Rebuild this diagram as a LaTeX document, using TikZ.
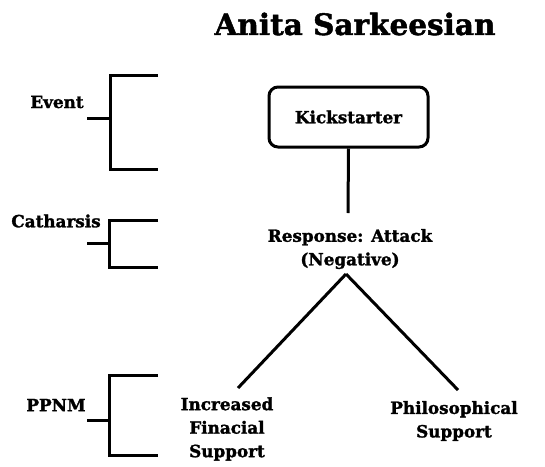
\documentclass[tikz,border=0pt]{standalone}
\usepackage{fontspec}
\setmainfont{DejaVu Serif}
\newfontfamily\heavy{DejaVu Serif}[UprightFont=*-Bold, FakeBold=1.6]
\usetikzlibrary{positioning}
\tikzset{
    tag/.style={
        font=\heavy\fontsize{16.8}{23.5}\selectfont,
        inner sep=0pt,
        align=center
    },
    headline/.style={
        font=\heavy\fontsize{29.5}{34}\selectfont,
        inner sep=0pt
    },
    stage/.style={
        tag,
        draw, line width=3pt,
        rounded corners=9pt,
        minimum width=159pt,
        minimum height=60pt
    },
    link/.style={
        line width=3pt
    },
    bracket/.style={
        line width=3pt
    },
}

\begin{document}
\begin{tikzpicture}
            [x=1pt, y=-1pt]
            \useasboundingbox (0,0) rectangle (545,466);
            % Title
            \node[headline] (title) at (355,24) {Anita Sarkeesian};

            % Draw left brackets
            \node[tag] (event) at (57,102) {Event};
            \node[tag] (catharsis) at (56,221) {Catharsis};
            \node[tag] (ppnm) at (56,405) {PPNM};

            \draw[bracket] (158,75) -- (110,75) -- (110,169) -- (158,169);
            \draw[bracket] (87,118) -- (110,118);
            \draw[bracket] (158,220) -- (109,220) -- (109,267) -- (158,267);
            \draw[bracket] (87,243) -- (109,243);
            \draw[bracket] (158,375) -- (109,375) -- (109,455) -- (158,455);
            \draw[bracket] (87,420) -- (109,420);

            % Draw tree
            \node[stage] (kick) at (348.5,117) {Kickstarter};
            \node[tag] (resp) at (350,249) {Response: Attack\\(Negative)};
            \coordinate (apex) at (346,274);
            \node[tag] (money) at (227,429) {Increased\\Finacial\\Support};
            \node[tag] (phil) at (454,421) {Philosophical\\Support};

            \draw[link] (kick.south) -- (348,213);
            \draw[link] (apex) -- (238,388);
            \draw[link] (apex) -- (458,390);

        \end{tikzpicture}
\end{document}
